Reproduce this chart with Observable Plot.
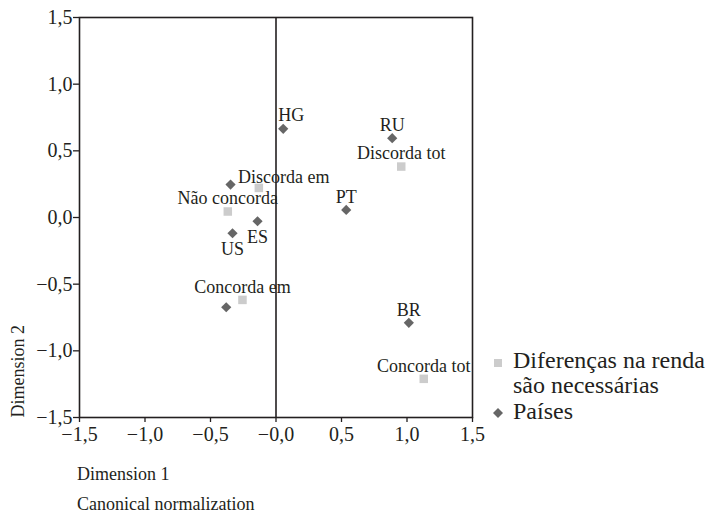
<!DOCTYPE html>
<html>
<head>
<meta charset="utf-8">
<script src="https://cdn.jsdelivr.net/npm/d3@7"></script>
<script src="https://cdn.jsdelivr.net/npm/@observablehq/plot@0.6"></script>
<style>
  html, body { margin: 0; padding: 0; background: #fff; }
  body { font-family: "Liberation Serif", Tinos, "Times New Roman", Times, "Noto Serif", "DejaVu Serif", FreeSerif, serif; color: #231f20; }
  #wrap { position: relative; width: 717px; height: 516px; overflow: hidden; }
  #chart { position: absolute; left: 0; top: 0; }
  .cap { position: absolute; left: 77px; font-size: 18px; line-height: 20px; }
  #legend { position: absolute; left: 492px; top: 348px; font-size: 24px; line-height: 25px; }
  .lrow { position: relative; padding-left: 21px; }
  .lrow svg { position: absolute; left: 0; }
</style>
</head>
<body>
<div id="wrap">
  <div id="chart"></div>
  <div class="cap" style="top:464px">Dimension 1</div>
  <div class="cap" style="top:494px">Canonical normalization</div>
  <div id="legend"></div>
</div>
<script>
// Countries (Países)
const countryLabels = ["HG", "RU", "PT", "ES", "US", "BR", "", ""];
const countryX = [0.055, 0.887, 0.536, -0.141, -0.332, 1.014, -0.347, -0.38];
const countryY = [0.665, 0.595, 0.057, -0.028, -0.118, -0.79, 0.247, -0.673];

// Response categories (Diferenças na renda são necessárias)
const responseLabels = ["Discorda tot", "Discorda em", "Não concorda", "Concorda em", "Concorda tot"];
const responseX = [0.956, -0.131, -0.368, -0.256, 1.128];
const responseY = [0.382, 0.222, 0.045, -0.618, -1.21];

// Ticks
const tickValues = [-1.5, -1.0, -0.5, 0, 0.5, 1.0, 1.5];
const xTickLabels = ["−1,5", "−1,0", "−0,5", "−0,0", "0,5", "1,0", "1,5"];
const yTickLabels = ["−1,5", "−1,0", "−0,5", "0,0", "0,5", "1,0", "1,5"];

const legendLabels = ["Diferenças na renda são necessárias", "Países"];

const countries = countryLabels.map((label, i) => ({label, x: countryX[i], y: countryY[i]}));
const responses = responseLabels.map((label, i) => ({label, x: responseX[i], y: responseY[i]}));

const ink = "#231f20";
const countryColor = "#666666";
const responseColor = "#cccccc";
const font = '"Liberation Serif", Tinos, "Times New Roman", Times, "Noto Serif", "DejaVu Serif", FreeSerif, serif';

const below = new Set(["ES", "US"]);
const shifted = {"HG": 8, "Discorda em": 25};
const allLabels = [...responses, ...countries].filter(d => d.label);
const labelSize = 18;

const chart = Plot.plot({
  width: 717,
  height: 445,
  marginLeft: 79,
  marginRight: 245,
  marginTop: 17,
  marginBottom: 28,
  style: {fontFamily: font, color: ink, background: "transparent", overflow: "visible"},
  x: {domain: [-1.5, 1.5]},
  y: {domain: [-1.5, 1.5]},
  marks: [
    Plot.frame({stroke: ink, strokeWidth: 1.6}),
    Plot.ruleX([0], {stroke: ink, strokeWidth: 1.6}),
    Plot.axisX({
      ticks: tickValues, tickFormat: (d, i) => xTickLabels[i],
      tickSize: 5, tickPadding: 4, fontSize: 20, stroke: ink, strokeWidth: 1.3, label: null
    }),
    Plot.axisY({
      ticks: tickValues, tickFormat: (d, i) => yTickLabels[i],
      tickSize: 6, tickPadding: 1, fontSize: 20, stroke: ink, strokeWidth: 1.3, label: null
    }),
    Plot.dot(responses, {x: "x", y: "y", symbol: "square", r: 4.8, fill: responseColor, stroke: "none"}),
    Plot.dot(countries, {x: "x", y: "y", symbol: "diamond2", r: 4.6, fill: countryColor, stroke: "none"}),
    Plot.text(allLabels.filter(d => !below.has(d.label) && !(d.label in shifted)), {
      x: "x", y: "y", text: "label", dy: -13, lineAnchor: "middle", fontSize: labelSize, fill: ink
    }),
    Plot.text(allLabels.filter(d => below.has(d.label)), {
      x: "x", y: "y", text: "label", dy: 16, lineAnchor: "middle", fontSize: labelSize, fill: ink
    }),
    Plot.text(allLabels.filter(d => d.label === "HG"), {
      x: "x", y: "y", text: "label", dx: shifted["HG"], dy: -14, lineAnchor: "middle", fontSize: labelSize, fill: ink
    }),
    Plot.text(allLabels.filter(d => d.label === "Discorda em"), {
      x: "x", y: "y", text: "label", dx: shifted["Discorda em"], dy: -11, lineAnchor: "middle", fontSize: labelSize, fill: ink
    }),
    Plot.text(["Dimension 2"], {
      frameAnchor: "bottom-left", text: d => d, rotate: -90, textAnchor: "start",
      lineAnchor: "bottom", dx: -56, fontSize: 18, fill: ink
    })
  ]
});
document.getElementById("chart").appendChild(chart);

// Legend
const legend = document.getElementById("legend");
const items = [
  {label: legendLabels[0], color: responseColor, shape: "square"},
  {label: legendLabels[1], color: countryColor, shape: "diamond"}
];
items.forEach((it, i) => {
  const row = document.createElement("div");
  row.className = "lrow";
  if (i === 1) row.style.marginTop = "1px";
  const sym = it.shape === "square"
    ? `<svg width="14" height="14" style="top:9px"><rect x="2" y="2" width="8" height="8" fill="${it.color}"/></svg>`
    : `<svg width="14" height="14" style="top:8px"><path d="M6,1L11,6L6,11L1,6Z" fill="${it.color}"/></svg>`;
  const txt = it.label === legendLabels[0] ? "Diferenças na renda<br>são necessárias" : it.label;
  row.innerHTML = sym + `<span>${txt}</span>`;
  legend.appendChild(row);
});
</script>
</body>
</html>
